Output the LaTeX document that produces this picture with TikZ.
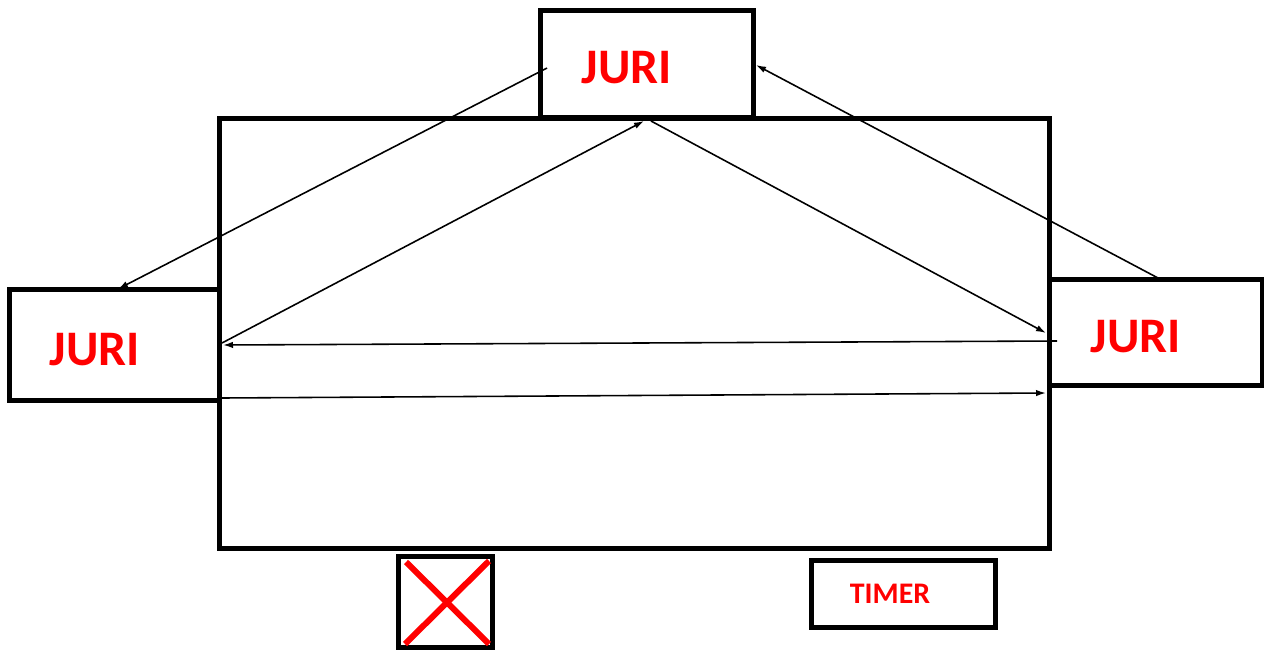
\documentclass[tikz,border=0pt]{standalone}
\usepackage{fontspec}
\setmainfont{Carlito}
\usetikzlibrary{arrows.meta}
\begin{document}
\begin{tikzpicture}[x=0.02cm,y=-0.02cm,
  box/.style={draw=black,line width=5*0.02cm,fill=white,inner sep=0pt,minimum width=#1},
  lbl/.style={text=red,font=\bfseries\fontsize{28.3}{30}\selectfont,inner sep=0pt},
  slbl/.style={text=red,font=\bfseries\fontsize{17}{19}\selectfont,inner sep=0pt},
  cross/.style={red,line width=6*0.02cm},
  conn/.style={line width=0.9pt,-{Latex[length=0.2cm,width=0.13cm]}}]
\useasboundingbox (0,0) rectangle (1264,649);
% field
\node[box=830*0.02cm,minimum height=430*0.02cm,fill=none] (field) at (634,333) {};
% boxes
\node[box=213*0.02cm,minimum height=107*0.02cm] (topbox) at (646.5,63.5) {};
\node[box=210*0.02cm,minimum height=111*0.02cm] (leftbox) at (114,344.5) {};
\node[box=213*0.02cm,minimum height=106*0.02cm] (rightbox) at (1155.5,332) {};
\node[box=94*0.02cm,minimum height=91*0.02cm] (xbox) at (445,601.5) {};
\node[box=184*0.02cm,minimum height=67*0.02cm] (timerbox) at (903,593.5) {};
% labels
\node[lbl] (toplbl) at (627,68) {JURI};
\node[lbl] (leftlbl) at (95,350) {JURI};
\node[lbl] (rightlbl) at (1136,337) {JURI};
\node[slbl] (timerlbl) at (890,594) {TIMER};
% red cross
\coordinate (xa) at (406,562);
\coordinate (xd) at (489,644);
\coordinate (xb) at (489,561);
\coordinate (xc) at (405,644);
\draw[cross] (xa) -- (xd);
\draw[cross] (xb) -- (xc);
% connector end points
\coordinate (t1) at (547,68);
\coordinate (l1) at (118,289);
\coordinate (l2) at (222,343);
\coordinate (t2) at (644,121);
\coordinate (t3) at (651,121);
\coordinate (r3) at (1046,333);
\coordinate (r4) at (1158,278);
\coordinate (t4) at (756,65);
\coordinate (r5) at (1057,341);
\coordinate (l5) at (223,345);
\coordinate (l6) at (222,398);
\coordinate (r6) at (1046,393);
\draw[conn] (t1) -- (l1);
\draw[conn] (l2) -- (t2);
\draw[conn] (t3) -- (r3);
\draw[conn] (r4) -- (t4);
\draw[conn] (r5) -- (l5);
\draw[conn] (l6) -- (r6);
\end{tikzpicture}
\end{document}
